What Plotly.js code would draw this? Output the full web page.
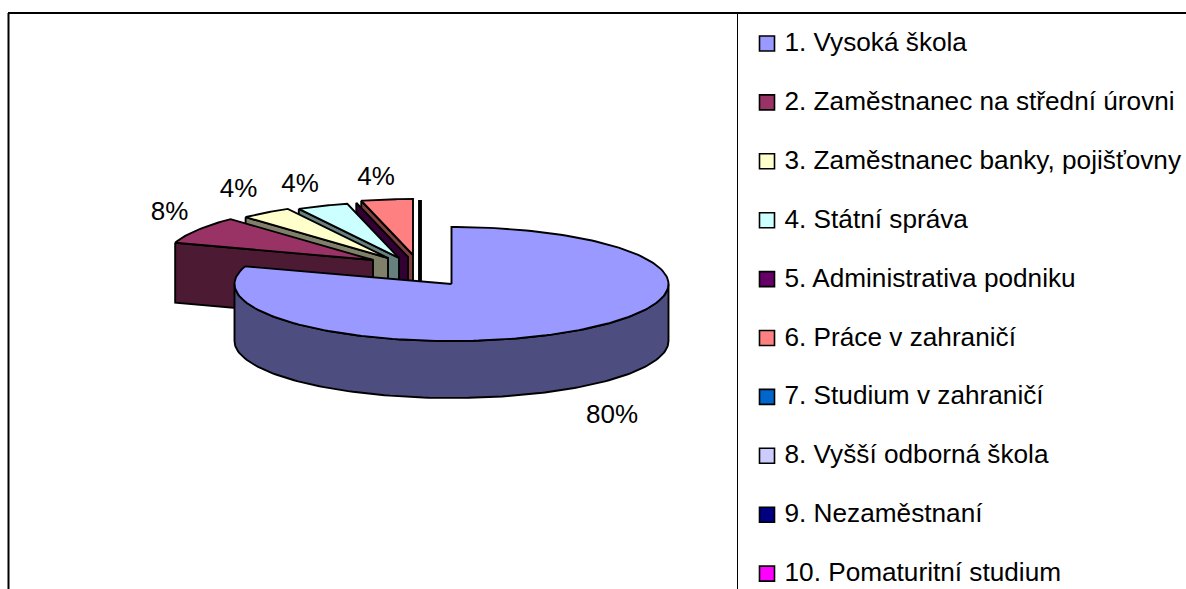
<!DOCTYPE html>
<html>
<head>
<meta charset="utf-8">
<script src="https://cdn.plot.ly/plotly-3.0.1.min.js"></script>
<style>html,body{margin:0;padding:0;background:#fff;overflow:hidden}</style>
</head>
<body>
<div id="chart" style="width:1186px;height:589px"></div>
<script>
// ---- data ----
const categories = ["1. Vysoká škola","2. Zaměstnanec na střední úrovni","3. Zaměstnanec banky, pojišťovny","4. Státní správa","5. Administrativa podniku","6. Práce v zahraničí","7. Studium v zahraničí","8. Vyšší odborná škola","9. Nezaměstnaní","10. Pomaturitní studium"];
const shares = [80,8,4,4,0,4,0,0,0,0];

// ---- styles ----
const topColors = ["#9999FF","#993366","#FFFFCC","#CCFFFF","#660066","#FF8080","#0066CC","#CCCCFF","#000080","#FF00FF"];
const sideColors = ["#4D4D80","#4D1A33","#80806A","#668080","#330033","#804040","#003366","#666680","#000040","#800080"];

// ---- layout geometry (pixel-like axis units) ----
const font = "Liberation Sans, Arial, sans-serif";
const centre = {x:451.5,y:284,rx:217,ry:57,depth:57};
const smallR = {rx:208,ry:56,depth:60};
const apexX = [451.5,373,388,399,408,413,420,420,420,420];
const apexY = [284,260,258,258,257,255,256,256,256,256];
const labelX = [612,169.5,238.5,300,376];
const labelY = [416,213,190.5,185,178];
const labelOf = [0,1,2,3,null,4,null,null,null,null];

const traces = [];
function pt(cx,cy,rx,ry,deg){const a=deg*Math.PI/180;return [cx+rx*Math.sin(a),cy-ry*Math.cos(a)];}
function poly(points,fill,width){
  const p = points.concat([points[0]]);
  traces.push({type:"scatter",mode:"lines",x:p.map(q=>q[0]),y:p.map(q=>q[1]),fill:"toself",fillcolor:fill,
    line:{color:"#000",width:width||1.9},hoverinfo:"skip",showlegend:false});
}
// cumulative angles, clockwise from 12 o'clock
const total = shares.reduce((a,b)=>a+b,0);
const starts=[];let acc=0;
shares.forEach(v=>{starts.push(acc/total*360);acc+=v;});

// back-to-front: last slices first, the big slice last
for(let i=shares.length-1;i>=1;i--){
  const a0=starts[i],a1=a0+shares[i]/total*360;
  const ax=apexX[i],ay=apexY[i],R=smallR;
  const o0=pt(ax,ay,R.rx,R.ry,a0);
  poly([o0,[ax,ay],[ax,ay+R.depth],[o0[0],o0[1]+R.depth]],sideColors[i],shares[i]===0&&i>=6?3:1.9);
  if(shares[i]>0){
    const arc=[];
    for(let k=0;k<=24;k++) arc.push(pt(ax,ay,R.rx,R.ry,a0+(a1-a0)*k/24));
    poly([[ax,ay]].concat(arc),topColors[i]);
  }
}
// big slice: rim then top
(function(){
  const C=centre,a1=shares[0]/total*360,rimT=[],rimB=[],arc=[];
  for(let k=0;k<=120;k++){const d=90+180*k/120;const p=pt(C.x,C.y,C.rx,C.ry,d);rimT.push(p);rimB.push([p[0],p[1]+C.depth]);}
  poly(rimT.concat(rimB.reverse()),sideColors[0]);
  for(let k=0;k<=200;k++) arc.push(pt(C.x,C.y,C.rx,C.ry,a1*k/200));
  poly([[C.x,C.y]].concat(arc),topColors[0]);
})();

// percent labels
const shown = shares.map((v,i)=>({v,i})).filter(d=>labelOf[d.i]!==null);
traces.push({type:"scatter",mode:"text",x:shown.map(d=>labelX[labelOf[d.i]]),y:shown.map(d=>labelY[labelOf[d.i]]),
  text:shown.map(d=>d.v+"%"),textposition:"middle center",textfont:{family:font,size:26,color:"#000"},hoverinfo:"skip",showlegend:false});

// legend
const legY = categories.map((c,i)=>43.5+i*58.9);
traces.push({type:"scatter",mode:"markers",x:categories.map(()=>767),y:legY,
  marker:{symbol:"square",size:15,color:topColors,line:{color:"#000",width:1.6}},hoverinfo:"skip",showlegend:false});
traces.push({type:"scatter",mode:"text",x:categories.map(()=>784.5),y:legY.map(v=>v+1),text:categories,
  textposition:"middle right",textfont:{family:font,size:26.2,color:"#000"},hoverinfo:"skip",showlegend:false});

const axis={visible:false,fixedrange:true,showgrid:false,zeroline:false};
const layout={
  width:1186,height:589,margin:{l:0,r:0,t:0,b:0},paper_bgcolor:"#fff",plot_bgcolor:"#fff",showlegend:false,
  xaxis:Object.assign({range:[0,1186]},axis),
  yaxis:Object.assign({range:[589,0]},axis),
  shapes:[
    {type:"line",x0:8,x1:1186,y0:13,y1:13,line:{color:"#000",width:2},layer:"below"},
    {type:"line",x0:8.5,x1:8.5,y0:13,y1:589,line:{color:"#000",width:2},layer:"below"},
    {type:"line",x0:737.5,x1:737.5,y0:13,y1:589,line:{color:"#000",width:1},layer:"below"}
  ]
};
Plotly.newPlot("chart",traces,layout,{displayModeBar:false,staticPlot:true});
</script>
</body>
</html>
